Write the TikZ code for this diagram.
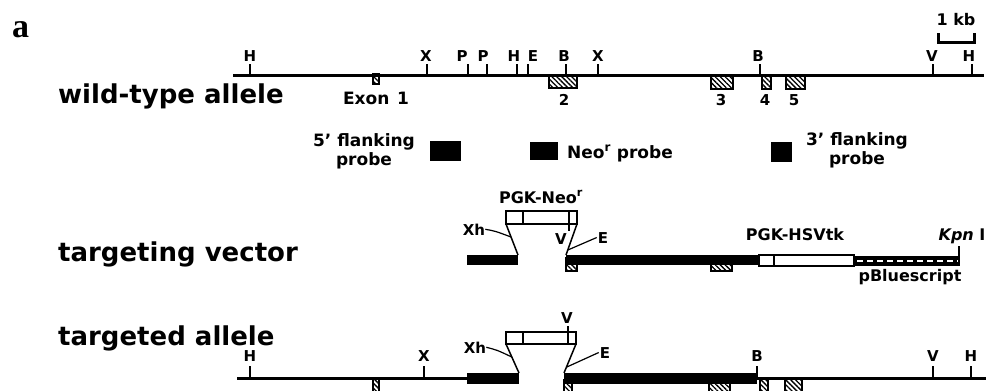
\documentclass[tikz,border=0pt]{standalone}
\usepackage{fontspec}
\setmainfont{DejaVu Sans}
\newfontfamily\serifbold{Liberation Serif}
\usetikzlibrary{patterns.meta,calc}
\begin{document}
\begin{tikzpicture}[x=1pt,y=-1pt,
  dna/.style={line width=3pt},
  tickmark/.style={line width=2pt},
  sitelab/.style={font=\fontsize{15}{17}\selectfont\bfseries, inner sep=0pt, anchor=base},
  midlab/.style={font=\fontsize{17}{19}\selectfont\bfseries, inner sep=0pt, anchor=base},
  pgklab/.style={font=\fontsize{16}{18}\selectfont\bfseries, inner sep=0pt, anchor=base},
  biglab/.style={font=\fontsize{26}{28}\selectfont\bfseries, inner sep=0pt, anchor=base west},
  exon/.style={draw=black, line width=1.2pt, pattern={Lines[angle=-45,distance=3.5pt,line width=1.3pt]}},
  probebox/.style={fill=black, inner sep=0pt, draw=none},
  cassette/.style={draw=black, line width=2pt, fill=white},
  divider/.style={line width=1.6pt},
  trap/.style={line width=1.5pt},
  leader/.style={line width=1.2pt}
]
\useasboundingbox (0,0) rectangle (986,391);
\clip (0,0) rectangle (986,391);

% panel letter
\node[font=\serifbold\fontsize{34}{36}\selectfont\bfseries, inner sep=0pt, anchor=base west] (panel) at (12,37) {a};

% row labels
\node[biglab] (wtlab) at (58,103) {wild-type allele};
\node[biglab] (tvlab) at (58,261) {targeting vector};
\node[biglab] (talab) at (58,345) {targeted allele};

% scale bar
\draw[line width=3pt] (938,33) -- (938,42) -- (974,42) -- (974,33);
\node[pgklab] (kb) at (956,25) {1 kb};

% ---------------- wild-type allele ----------------
\draw[exon] (373,74) rectangle (379,84);
\draw[exon] (549,76) rectangle (577,88);
\draw[exon] (711,76) rectangle (733,89);
\draw[exon] (762,76) rectangle (771,89);
\draw[exon] (786,76) rectangle (805,89);
\draw[dna] (233,75) -- (984,75);
\foreach \n/\tx/\lx/\t in {a/250/250/H, b/427/426/X, c/468/462/P, d/487/483/P, e/517/514/H, f/528/533/E, g/566/564/B, h/598/598/X, i/760/758/B, j/933/932/V, k/972/969/H}{
  \node[sitelab] (w\n) at (\lx,61) {\t};
  \draw[tickmark] (\tx,75) -- (\tx,64);
}
\node[midlab] (ex1) at (376,104) {Exon\hspace{0.45em}1};
\node[sitelab] (ex2) at (564,105) {2};
\node[sitelab] (ex3) at (721,105) {3};
\node[sitelab] (ex4) at (765,105) {4};
\node[sitelab] (ex5) at (794,105) {5};

% ---------------- probes ----------------
\node[midlab, align=center] (p5lab) at (364,165) {5' flanking\\probe};
\node[probebox, minimum width=31pt, minimum height=20pt] (p5) at (445.5,151) {};
\node[probebox, minimum width=28pt, minimum height=18pt] (pneo) at (544,151) {};
\node[midlab, anchor=base west] (pneolab) at (567,158) {Neo\textsuperscript{r} probe};
\node[probebox, minimum width=21pt, minimum height=20pt] (p3) at (781.5,152) {};
\node[midlab, align=center] (p3lab) at (857,164) {3' flanking\\probe};

% ---------------- targeting vector ----------------
\draw[exon] (566,258) rectangle (577,271);
\draw[exon] (711,258) rectangle (732,271);
\fill (467,255) rectangle (518,265);
\fill (566,255) rectangle (759,265);
\draw[cassette] (759,255) rectangle (854,266);
\draw[divider] (774,255) -- (774,266);
\fill (854,256) rectangle (960,266);
\draw[white, line width=2pt, dash pattern=on 6pt off 4pt] (857,261) -- (958,261);
\draw[tickmark] (959,256) -- (959,246);
\node[pgklab] (hsv) at (795,240) {PGK-HSVtk};
\node[pgklab] (kpn) at (962,240) {\itshape Kpn\upshape\ I};
\node[pgklab] (pbs) at (910,281) {pBluescript};

\draw[cassette] (506,211) rectangle (577,224);
\draw[divider] (523,211) -- (523,224);
\draw[divider] (569,211) -- (569,231);
\node[pgklab] (neo1) at (541,203) {PGK-Neo\textsuperscript{r}};
\coordinate (tl1) at (506,224); \coordinate (bl1) at (518,255);
\coordinate (tr1) at (577,224); \coordinate (br1) at (566,255);
\draw[trap] (tl1) -- (bl1);
\draw[trap] (tr1) -- (br1);
\node[sitelab] (xh1) at (474,235) {Xh};
\node[sitelab] (v1) at (561,244) {V};
\node[sitelab] (e1) at (603,243) {E};
\coordinate (xh1p) at ($(tl1)!0.42!(bl1)$);
\coordinate (e1p) at ($(tr1)!0.84!(br1)$);
\draw[leader] (xh1.east) .. controls (495,231) .. (xh1p);
\draw[leader] ([xshift=-1pt]e1.west) -- (e1p);

% ---------------- targeted allele ----------------
\draw[exon] (373,379) rectangle (379,393);
\draw[exon] (564,380) rectangle (572,393);
\draw[exon] (709,382) rectangle (730,393);
\draw[exon] (760,379) rectangle (768,393);
\draw[exon] (785,379) rectangle (802,393);
\draw[dna] (237,378) -- (467,378);
\draw[dna] (757,378) -- (988,378);
\fill (467,373) rectangle (519,384);
\fill (564,373) rectangle (757,384);
\foreach \n/\tx/\t in {a/250/H, b/424/X, c/757/B, d/933/V, e/971/H}{
  \node[sitelab] (t\n) at (\tx,361) {\t};
  \draw[tickmark] (\tx,378) -- (\tx,366);
}
\draw[cassette] (506,332) rectangle (576,344);
\draw[divider] (523,332) -- (523,344);
\draw[divider] (568,326) -- (568,344);
\node[sitelab] (v2) at (567,323) {V};
\coordinate (tl2) at (506,344); \coordinate (bl2) at (519,373);
\coordinate (tr2) at (576,344); \coordinate (br2) at (564,373);
\draw[trap] (tl2) -- (bl2);
\draw[trap] (tr2) -- (br2);
\node[sitelab] (xh2) at (475,353) {Xh};
\node[sitelab] (e2) at (605,358) {E};
\coordinate (xh2p) at ($(tl2)!0.45!(bl2)$);
\coordinate (e2p) at ($(tr2)!0.8!(br2)$);
\draw[leader] (xh2.east) .. controls (497,350) .. (xh2p);
\draw[leader] ([xshift=-1pt]e2.west) -- (e2p);
\end{tikzpicture}
\end{document}
